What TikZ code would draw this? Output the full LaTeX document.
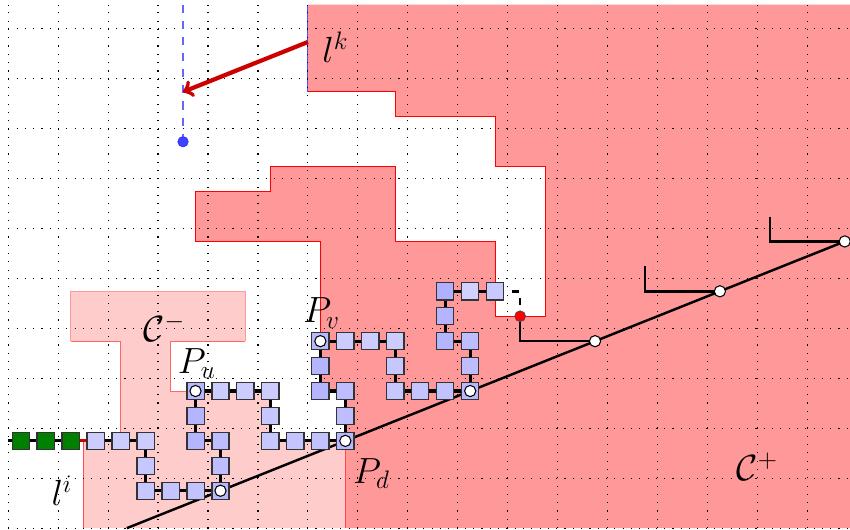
\documentclass[tikz,border=0pt]{standalone}
\usepackage{amsfonts, amsmath, amssymb}
\usepackage{tikz}
\definecolor{regionfill}{HTML}{FF9999}
\definecolor{lowfill}{HTML}{FFCCCC}
\definecolor{arrowred}{HTML}{CC0000}
\definecolor{keepgreen}{HTML}{008000}
\tikzset{
	griddots/.style={line width=0.65pt, dash pattern=on 0.65pt off 4.08pt},
	cell/.style={draw=black!80, line width=0.7pt, minimum size=9.8pt, inner sep=0pt},
	stone/.style={cell, fill=keepgreen},
	dot/.style={circle, draw=black, fill=white, line width=0.6pt, minimum size=6.4pt, inner sep=0pt},
	link/.style={line width=1.8pt, black},
	ray/.style={line width=1.4pt, black},
	tag/.style={font=\huge}
}
\begin{document}
\begin{tikzpicture}[x=0.5cm,y=0.4992cm]
	\useasboundingbox (-0.33,-0.036) rectangle (33.71,21.185);
	\fill[regionfill] (12,21) -- (12,17.5) -- (15.5,17.5) -- (15.5,16.5) -- (19.5,16.5) -- (19.5,14.5) -- (21.5,14.5) -- (21.5,8.5) -- (19.5,8.5) -- (19.5,11.5) -- (15.5,11.5) -- (15.5,14.5) -- (10.5,14.5) -- (10.5,13.5) -- (7.5,13.5) -- (7.5,11.5) -- (12.5,11.5) -- (12.5,5.5) -- (13.5,5.5) -- (13.5,0) -- (33.71,0) -- (33.71,21) -- cycle;
	\draw[red, line width=0.5pt] (12,17.5) -- (15.5,17.5) -- (15.5,16.5) -- (19.5,16.5) -- (19.5,14.5) -- (21.5,14.5) -- (21.5,8.5) -- (19.5,8.5) -- (19.5,11.5) -- (15.5,11.5) -- (15.5,14.5) -- (10.5,14.5) -- (10.5,13.5) -- (7.5,13.5) -- (7.5,11.5) -- (12.5,11.5) -- (12.5,5.5) -- (13.5,5.5) -- (13.5,0);
	\draw[blue!70, line width=0.6pt] (12,21) -- (12,17.5);
	\fill[lowfill] (6.5,7.5) -- (6.5,5.5) -- (10.5,5.5) -- (10.5,3.5) -- (13.5,3.5) -- (13.5,0) -- (3,0) -- (3,3.5) -- (4.5,3.5) -- (4.5,7.5) -- (2.5,7.5) -- (2.5,9.5) -- (9.5,9.5) -- (9.5,7.5) -- cycle;
	\draw[red!60, line width=0.5pt] (6.5,7.5) -- (6.5,5.5) -- (10.5,5.5);
	\draw[red!60, line width=0.5pt] (3,3.5) -- (4.5,3.5) -- (4.5,7.5) -- (2.5,7.5);
	\draw[regionfill, line width=0.5pt] (2.5,7.5) -- (2.5,9.5) -- (9.5,9.5) -- (9.5,7.5);
	\draw[red!60, line width=0.5pt] (9.5,7.5) -- (6.5,7.5);
	\draw[red!70, line width=0.5pt] (3,0) -- (3,3.5);
	\draw[griddots] (0,0) grid (33.71,21);

	\coordinate (raybase) at (4.75,0);
	\coordinate (a1) at (8.5,1.5);
	\coordinate (a2) at (13.5,3.5);
	\coordinate (a3) at (18.5,5.5);
	\coordinate (a4) at (23.5,7.5);
	\coordinate (a5) at (28.5,9.5);
	\coordinate (a6) at (33.5,11.5);
	\draw[ray] (raybase) -- (a6);

	\coordinate (s1) at (25.5,10.5);
	\coordinate (s2) at (25.5,9.5);
	\coordinate (s3) at (30.5,12.5);
	\coordinate (s4) at (30.5,11.5);
	\coordinate (r1) at (20.5,7.5);
	\draw[ray] (s1) -- (s2) -- (a5);
	\draw[ray] (s3) -- (s4) -- (a6);

	\node[stone] (g1) at (0.5,3.5) {};
	\node[stone] (g2) at (1.5,3.5) {};
	\node[stone] (g3) at (2.5,3.5) {};
	\node[cell, fill=blue!20] (n1) at (3.5,3.5) {};
	\node[cell, fill=blue!20] (n2) at (4.5,3.5) {};
	\node[cell, fill=blue!20] (n3) at (5.5,3.5) {};
	\node[cell, fill=blue!22] (n4) at (5.5,2.5) {};
	\node[cell, fill=blue!22] (n5) at (5.5,1.5) {};
	\node[cell, fill=blue!23] (n6) at (6.5,1.5) {};
	\node[cell, fill=blue!24] (n7) at (7.5,1.5) {};
	\node[cell, fill=blue!28] (n8) at (8.5,1.5) {};
	\node[cell, fill=blue!26] (n9) at (8.5,2.5) {};
	\node[cell, fill=blue!26] (n10) at (8.5,3.5) {};
	\node[cell, fill=blue!29] (n11) at (7.5,3.5) {};
	\node[cell, fill=blue!29] (n12) at (7.5,4.5) {};
	\node[cell, fill=blue!28] (n13) at (7.5,5.5) {};
	\node[cell, fill=blue!20] (n14) at (8.5,5.5) {};
	\node[cell, fill=blue!20] (n15) at (9.5,5.5) {};
	\node[cell, fill=blue!20] (n16) at (10.5,5.5) {};
	\node[cell, fill=blue!22] (n17) at (10.5,4.5) {};
	\node[cell, fill=blue!22] (n18) at (10.5,3.5) {};
	\node[cell, fill=blue!23] (n19) at (11.5,3.5) {};
	\node[cell, fill=blue!24] (n20) at (12.5,3.5) {};
	\node[cell, fill=blue!28] (n21) at (13.5,3.5) {};
	\node[cell, fill=blue!26] (n22) at (13.5,4.5) {};
	\node[cell, fill=blue!26] (n23) at (13.5,5.5) {};
	\node[cell, fill=blue!29] (n24) at (12.5,5.5) {};
	\node[cell, fill=blue!29] (n25) at (12.5,6.5) {};
	\node[cell, fill=blue!28] (n26) at (12.5,7.5) {};
	\node[cell, fill=blue!20] (n27) at (13.5,7.5) {};
	\node[cell, fill=blue!20] (n28) at (14.5,7.5) {};
	\node[cell, fill=blue!20] (n29) at (15.5,7.5) {};
	\node[cell, fill=blue!22] (n30) at (15.5,6.5) {};
	\node[cell, fill=blue!22] (n31) at (15.5,5.5) {};
	\node[cell, fill=blue!23] (n32) at (16.5,5.5) {};
	\node[cell, fill=blue!24] (n33) at (17.5,5.5) {};
	\node[cell, fill=blue!28] (n34) at (18.5,5.5) {};
	\node[cell, fill=blue!26] (n35) at (18.5,6.5) {};
	\node[cell, fill=blue!26] (n36) at (18.5,7.5) {};
	\node[cell, fill=blue!29] (n37) at (17.5,7.5) {};
	\node[cell, fill=blue!29] (n38) at (17.5,8.5) {};
	\node[cell, fill=blue!31] (n39) at (17.5,9.5) {};
	\node[cell, fill=blue!18] (n40) at (18.5,9.5) {};
	\node[cell, fill=blue!21] (n41) at (19.5,9.5) {};

	\coordinate (tail) at (0,3.5);
	\draw[link] (tail) -- (g1) -- (g2) -- (g3);
	\draw[line width=1.8pt, arrowred] (g3) -- (n1);
	\draw[link] (n1) -- (n2) -- (n3) -- (n4) -- (n5) -- (n6) -- (n7) -- (n8) -- (n9) -- (n10) -- (n11) -- (n12) -- (n13) -- (n14) -- (n15) -- (n16) -- (n17) -- (n18) -- (n19) -- (n20) -- (n21) -- (n22) -- (n23) -- (n24) -- (n25) -- (n26) -- (n27) -- (n28) -- (n29) -- (n30) -- (n31) -- (n32) -- (n33) -- (n34) -- (n35) -- (n36) -- (n37) -- (n38) -- (n39) -- (n40) -- (n41);

	\node[dot] (q1) at (a1) {};
	\node[dot] (q2) at (a2) {};
	\node[dot] (q3) at (a3) {};
	\node[dot] (q4) at (a4) {};
	\node[dot] (q5) at (a5) {};
	\node[dot] (q6) at (a6) {};
	\node[dot] (q7) at (12.5,7.5) {};
	\node[dot] (q8) at (7.5,5.5) {};

	\node[circle, draw=black!70, fill=red, line width=0.4pt, minimum size=6.2pt, inner sep=0pt] (rd) at (20.5,8.5) {};
	\draw[ray] (rd) -- (r1) -- (q4);
	\draw[line width=1.4pt, dash pattern=on 4.3pt off 4.2pt, dash phase=4.3pt] (n41) -| (rd);

	\coordinate (top) at (7,21);
	\node[circle, fill=blue!75, draw=blue!85, line width=0.3pt, minimum size=6pt, inner sep=0pt] (bl) at (7,15.5) {};
	\draw[blue!60, line width=1pt, dash pattern=on 4.6pt off 4.6pt] (top) -- (bl);

	\coordinate (lkstart) at (12,19.5);
	\coordinate (lkend) at (7,17.5);
	\draw[line width=2.4pt, arrowred, ->, >=to] (lkstart) -- (lkend);

	\node[tag] (lk) at (13.1,19.3) {$l^k$};
	\node[tag] (li) at (2.15,1.5) {$l^i$};
	\node[tag] (pu) at (7.55,6.6) {$P_u$};
	\node[tag] (pv) at (12.55,8.62) {$P_v$};
	\node[tag] (pd) at (14.55,2.2) {$P_d$};
	\node[tag] (cm) at (6.25,8.05) {$\mathcal{C}^-$};
	\node[tag] (cp) at (30,2.45) {$\mathcal{C}^+$};
\end{tikzpicture}
\end{document}
